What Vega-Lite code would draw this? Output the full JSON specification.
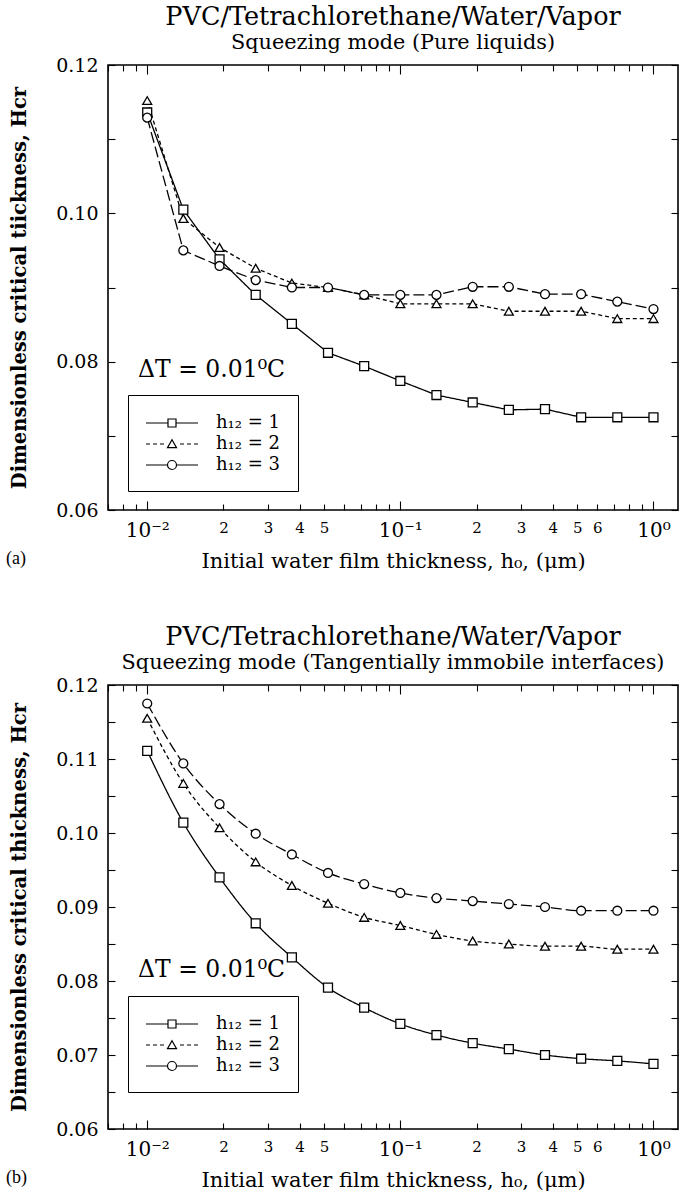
{
  "$schema": "https://vega.github.io/schema/vega-lite/v6.json",
  "padding": {"left": 5, "top": 3, "right": 2, "bottom": 2},
  "background": "white",
  "spacing": 51,
  "config": {
    "font": "DejaVu Serif",
    "view": {"stroke": "black", "strokeWidth": 1.6},
    "axis": {
      "grid": false, "domain": false, "tickColor": "black", "tickWidth": 1.1,
      "labelColor": "black", "titleColor": "black",
      "labelFont": "DejaVu Serif", "titleFont": "DejaVu Serif",
      "titleFontWeight": "normal", "labelFontSize": 19, "titleFontSize": 21,
      "labelOverlap": false, "labelFlush": false, "labelBound": false
    },
    "title": {
      "font": "DejaVu Serif", "fontWeight": "normal", "fontSize": 25.5,
      "subtitleFont": "DejaVu Serif", "subtitleFontSize": 20.8,
      "color": "black", "subtitleColor": "black", "anchor": "middle",
      "offset": 3, "subtitlePadding": 0
    },
    "legend": {
      "orient": "none", "title": null, "padding": 17,
      "strokeColor": "black", "strokeWidth": 1, "fillColor": "white", "cornerRadius": 0,
      "labelFont": "DejaVu Serif", "labelFontSize": 18, "labelColor": "black",
      "labelOffset": 49, "rowPadding": 1, "labelLimit": 300,
      "symbolSize": 400, "symbolStrokeWidth": 1.2, "symbolStrokeColor": "black",
      "symbolFillColor": "transparent", "symbolOpacity": 1
    }
  },
  "datasets": {
    "pure": [
      {"series": "h₁₂ = 1", "x": 0.01, "y": 0.1136},
      {"series": "h₁₂ = 1", "x": 0.01389, "y": 0.1005},
      {"series": "h₁₂ = 1", "x": 0.01931, "y": 0.0938},
      {"series": "h₁₂ = 1", "x": 0.02683, "y": 0.0890},
      {"series": "h₁₂ = 1", "x": 0.03728, "y": 0.0851},
      {"series": "h₁₂ = 1", "x": 0.05179, "y": 0.0812},
      {"series": "h₁₂ = 1", "x": 0.07197, "y": 0.0794},
      {"series": "h₁₂ = 1", "x": 0.1, "y": 0.0774},
      {"series": "h₁₂ = 1", "x": 0.1389, "y": 0.0755},
      {"series": "h₁₂ = 1", "x": 0.1931, "y": 0.0745},
      {"series": "h₁₂ = 1", "x": 0.2683, "y": 0.0735},
      {"series": "h₁₂ = 1", "x": 0.3728, "y": 0.0736},
      {"series": "h₁₂ = 1", "x": 0.5179, "y": 0.0725},
      {"series": "h₁₂ = 1", "x": 0.7197, "y": 0.0725},
      {"series": "h₁₂ = 1", "x": 1.0, "y": 0.0725},
      {"series": "h₁₂ = 2", "x": 0.01, "y": 0.1152},
      {"series": "h₁₂ = 2", "x": 0.01389, "y": 0.0993},
      {"series": "h₁₂ = 2", "x": 0.01931, "y": 0.0954},
      {"series": "h₁₂ = 2", "x": 0.02683, "y": 0.0926},
      {"series": "h₁₂ = 2", "x": 0.03728, "y": 0.0906},
      {"series": "h₁₂ = 2", "x": 0.05179, "y": 0.0900},
      {"series": "h₁₂ = 2", "x": 0.07197, "y": 0.0890},
      {"series": "h₁₂ = 2", "x": 0.1, "y": 0.0878},
      {"series": "h₁₂ = 2", "x": 0.1389, "y": 0.0878},
      {"series": "h₁₂ = 2", "x": 0.1931, "y": 0.0878},
      {"series": "h₁₂ = 2", "x": 0.2683, "y": 0.0868},
      {"series": "h₁₂ = 2", "x": 0.3728, "y": 0.0868},
      {"series": "h₁₂ = 2", "x": 0.5179, "y": 0.0868},
      {"series": "h₁₂ = 2", "x": 0.7197, "y": 0.0858},
      {"series": "h₁₂ = 2", "x": 1.0, "y": 0.0858},
      {"series": "h₁₂ = 3", "x": 0.01, "y": 0.1129},
      {"series": "h₁₂ = 3", "x": 0.01389, "y": 0.0950},
      {"series": "h₁₂ = 3", "x": 0.01931, "y": 0.0929},
      {"series": "h₁₂ = 3", "x": 0.02683, "y": 0.0910},
      {"series": "h₁₂ = 3", "x": 0.03728, "y": 0.0900},
      {"series": "h₁₂ = 3", "x": 0.05179, "y": 0.0900},
      {"series": "h₁₂ = 3", "x": 0.07197, "y": 0.0890},
      {"series": "h₁₂ = 3", "x": 0.1, "y": 0.0890},
      {"series": "h₁₂ = 3", "x": 0.1389, "y": 0.0890},
      {"series": "h₁₂ = 3", "x": 0.1931, "y": 0.0901},
      {"series": "h₁₂ = 3", "x": 0.2683, "y": 0.0901},
      {"series": "h₁₂ = 3", "x": 0.3728, "y": 0.0891},
      {"series": "h₁₂ = 3", "x": 0.5179, "y": 0.0891},
      {"series": "h₁₂ = 3", "x": 0.7197, "y": 0.0881},
      {"series": "h₁₂ = 3", "x": 1.0, "y": 0.0871}
    ],
    "immobile": [
      {"series": "h₁₂ = 1", "x": 0.01, "y": 0.1111},
      {"series": "h₁₂ = 1", "x": 0.01389, "y": 0.1014},
      {"series": "h₁₂ = 1", "x": 0.01931, "y": 0.0940},
      {"series": "h₁₂ = 1", "x": 0.02683, "y": 0.0878},
      {"series": "h₁₂ = 1", "x": 0.03728, "y": 0.0832},
      {"series": "h₁₂ = 1", "x": 0.05179, "y": 0.0791},
      {"series": "h₁₂ = 1", "x": 0.07197, "y": 0.0764},
      {"series": "h₁₂ = 1", "x": 0.1, "y": 0.0742},
      {"series": "h₁₂ = 1", "x": 0.1389, "y": 0.0727},
      {"series": "h₁₂ = 1", "x": 0.1931, "y": 0.0716},
      {"series": "h₁₂ = 1", "x": 0.2683, "y": 0.0708},
      {"series": "h₁₂ = 1", "x": 0.3728, "y": 0.0700},
      {"series": "h₁₂ = 1", "x": 0.5179, "y": 0.0695},
      {"series": "h₁₂ = 1", "x": 0.7197, "y": 0.0692},
      {"series": "h₁₂ = 1", "x": 1.0, "y": 0.0688},
      {"series": "h₁₂ = 2", "x": 0.01, "y": 0.1155},
      {"series": "h₁₂ = 2", "x": 0.01389, "y": 0.1067},
      {"series": "h₁₂ = 2", "x": 0.01931, "y": 0.1007},
      {"series": "h₁₂ = 2", "x": 0.02683, "y": 0.0961},
      {"series": "h₁₂ = 2", "x": 0.03728, "y": 0.0929},
      {"series": "h₁₂ = 2", "x": 0.05179, "y": 0.0905},
      {"series": "h₁₂ = 2", "x": 0.07197, "y": 0.0886},
      {"series": "h₁₂ = 2", "x": 0.1, "y": 0.0875},
      {"series": "h₁₂ = 2", "x": 0.1389, "y": 0.0863},
      {"series": "h₁₂ = 2", "x": 0.1931, "y": 0.0854},
      {"series": "h₁₂ = 2", "x": 0.2683, "y": 0.0850},
      {"series": "h₁₂ = 2", "x": 0.3728, "y": 0.0847},
      {"series": "h₁₂ = 2", "x": 0.5179, "y": 0.0847},
      {"series": "h₁₂ = 2", "x": 0.7197, "y": 0.0843},
      {"series": "h₁₂ = 2", "x": 1.0, "y": 0.0843},
      {"series": "h₁₂ = 3", "x": 0.01, "y": 0.1175},
      {"series": "h₁₂ = 3", "x": 0.01389, "y": 0.1094},
      {"series": "h₁₂ = 3", "x": 0.01931, "y": 0.1039},
      {"series": "h₁₂ = 3", "x": 0.02683, "y": 0.0999},
      {"series": "h₁₂ = 3", "x": 0.03728, "y": 0.0971},
      {"series": "h₁₂ = 3", "x": 0.05179, "y": 0.0946},
      {"series": "h₁₂ = 3", "x": 0.07197, "y": 0.0931},
      {"series": "h₁₂ = 3", "x": 0.1, "y": 0.0919},
      {"series": "h₁₂ = 3", "x": 0.1389, "y": 0.0912},
      {"series": "h₁₂ = 3", "x": 0.1931, "y": 0.0908},
      {"series": "h₁₂ = 3", "x": 0.2683, "y": 0.0904},
      {"series": "h₁₂ = 3", "x": 0.3728, "y": 0.0900},
      {"series": "h₁₂ = 3", "x": 0.5179, "y": 0.0895},
      {"series": "h₁₂ = 3", "x": 0.7197, "y": 0.0895},
      {"series": "h₁₂ = 3", "x": 1.0, "y": 0.0895}
    ]
  },
  "vconcat": [
    {
      "width": 570,
      "height": 445,
      "title": {"text": "PVC/Tetrachlorethane/Water/Vapor", "subtitle": "Squeezing mode (Pure liquids)"},
      "data": {"name": "pure"},
      "layer": [
        {
          "transform": [{"filter": "false"}],
          "mark": {"type": "point", "filled": false, "color": "black", "strokeWidth": 1.2, "size": 400, "opacity": 1},
          "encoding": {
            "shape": {
              "field": "series", "type": "nominal",
              "scale": {
                "domain": ["h₁₂ = 1", "h₁₂ = 2", "h₁₂ = 3"],
                "range": [
                  "M-1,0H1.2M2,0H4.2M1.2,-0.4H2V0.4H1.2Z",
                  "M-1,0H-0.6M-0.3,0H0.1M0.4,0H0.8M2.4,0H2.8M3.1,0H3.5M3.8,0H4.2M1.6,-0.42L2.05,0.36H1.15Z",
                  "M-1,0H1.15M2.05,0H4.2M2.05,0A0.45,0.45 0 1 1 1.15,0A0.45,0.45 0 1 1 2.05,0Z"
                ]
              },
              "legend": {"legendX": 20, "legendY": 330}
            }
          }
        },
        {
          "mark": {"type": "line", "color": "black", "strokeWidth": 1.3},
          "encoding": {
            "x": {
              "field": "x", "type": "quantitative",
              "scale": {"type": "log", "domain": [0.007, 1.25], "nice": false},
              "axis": {
                "orient": "bottom",
                "values": [0.007, 0.008, 0.009, 0.01, 0.02, 0.03, 0.04, 0.05, 0.06, 0.07, 0.08, 0.09, 0.1, 0.2, 0.3, 0.4, 0.5, 0.6, 0.7, 0.8, 0.9, 1],
                "labelExpr": "datum.value == 0.01 ? '10⁻²' : datum.value == 0.1 ? '10⁻¹' : datum.value == 1 ? '10⁰' : (datum.value > 0.015 && datum.value < 0.055) ? format(datum.value * 100, '.0f') : (datum.value > 0.15 && datum.value < 0.65) ? format(datum.value * 10, '.0f') : ''",
                "tickSize": {"condition": {"test": "datum.value == 0.01 || datum.value == 0.1 || datum.value == 1", "value": -9}, "value": -6},
                "labelPadding": {"condition": {"test": "datum.value == 0.01 || datum.value == 0.1 || datum.value == 1", "value": 19}, "value": 16},
                "labelFontSize": {"condition": {"test": "datum.value == 0.01 || datum.value == 0.1 || datum.value == 1", "value": 20}, "value": 15},
                "title": "Initial water film thickness, h₀, (μm)",
                "titlePadding": 10
              }
            },
            "y": {
              "field": "y", "type": "quantitative",
              "scale": {"domain": [0.06, 0.12], "nice": false, "zero": false},
              "axis": {
                "orient": "left",
                "values": [0.06, 0.07, 0.08, 0.09, 0.1, 0.11, 0.12],
                "labelExpr": "round(datum.value * 100) % 2 == 0 ? format(datum.value, '.2f') : ''",
                "tickSize": -7,
                "labelPadding": 17,
                "title": "Dimensionless critical tiickness, Hcr",
                "titleFontWeight": "bold",
                "titleFontSize": 19.5,
                "titlePadding": 26
              }
            },
            "strokeDash": {
              "field": "series", "type": "nominal",
              "scale": {"domain": ["h₁₂ = 1", "h₁₂ = 2", "h₁₂ = 3"], "range": [[1, 0], [4, 3], [11, 4]]},
              "legend": null
            }
          }
        },
        {
          "mark": {"type": "point", "filled": true, "fill": "white", "stroke": "black", "strokeWidth": 1.3, "size": 80, "opacity": 1},
          "encoding": {
            "x": {
              "field": "x", "type": "quantitative",
              "scale": {"type": "log", "domain": [0.007, 1.25], "nice": false},
              "axis": {
                "orient": "top", "labels": false, "title": null,
                "values": [0.007, 0.008, 0.009, 0.01, 0.02, 0.03, 0.04, 0.05, 0.06, 0.07, 0.08, 0.09, 0.1, 0.2, 0.3, 0.4, 0.5, 0.6, 0.7, 0.8, 0.9, 1],
                "tickSize": {"condition": {"test": "datum.value == 0.01 || datum.value == 0.1 || datum.value == 1", "value": -9}, "value": -6}
              }
            },
            "y": {
              "field": "y", "type": "quantitative",
              "scale": {"domain": [0.06, 0.12], "nice": false, "zero": false},
              "axis": {
                "orient": "right", "labels": false, "title": null,
                "values": [0.06, 0.07, 0.08, 0.09, 0.1, 0.11, 0.12],
                "tickSize": -7
              }
            },
            "shape": {
              "field": "series", "type": "nominal",
              "scale": {"domain": ["h₁₂ = 1", "h₁₂ = 2", "h₁₂ = 3"], "range": ["square", "triangle-up", "circle"]},
              "legend": null
            }
          }
        },
        {
          "data": {"values": [{}]},
          "mark": {"type": "text", "align": "left", "baseline": "alphabetic", "fontSize": 23.5, "font": "DejaVu Serif", "color": "black"},
          "encoding": {
            "x": {"datum": 0.0092, "type": "quantitative", "axis": null},
            "y": {"datum": 0.078, "type": "quantitative", "axis": null},
            "text": {"value": "ΔT = 0.01⁰C"}
          }
        },
        {
          "data": {"values": [{}]},
          "mark": {"type": "text", "align": "left", "baseline": "alphabetic", "fontSize": 18, "font": "Liberation Serif", "color": "black"},
          "encoding": {
            "x": {"datum": 0.002767, "type": "quantitative", "axis": null},
            "y": {"datum": 0.0527, "type": "quantitative", "axis": null},
            "text": {"value": "(a)"}
          }
        }
      ],
      "resolve": {
        "scale": {"shape": "independent"},
        "legend": {"shape": "independent"},
        "axis": {"x": "independent", "y": "independent"}
      }
    },
    {
      "width": 570,
      "height": 444,
      "title": {"text": "PVC/Tetrachlorethane/Water/Vapor", "subtitle": "Squeezing mode (Tangentially immobile interfaces)"},
      "data": {"name": "immobile"},
      "layer": [
        {
          "transform": [{"filter": "false"}],
          "mark": {"type": "point", "filled": false, "color": "black", "strokeWidth": 1.2, "size": 400, "opacity": 1},
          "encoding": {
            "shape": {
              "field": "series", "type": "nominal",
              "scale": {
                "domain": ["h₁₂ = 1", "h₁₂ = 2", "h₁₂ = 3"],
                "range": [
                  "M-1,0H1.2M2,0H4.2M1.2,-0.4H2V0.4H1.2Z",
                  "M-1,0H-0.6M-0.3,0H0.1M0.4,0H0.8M2.4,0H2.8M3.1,0H3.5M3.8,0H4.2M1.6,-0.42L2.05,0.36H1.15Z",
                  "M-1,0H1.15M2.05,0H4.2M2.05,0A0.45,0.45 0 1 1 1.15,0A0.45,0.45 0 1 1 2.05,0Z"
                ]
              },
              "legend": {"legendX": 20, "legendY": 311}
            }
          }
        },
        {
          "mark": {"type": "line", "color": "black", "strokeWidth": 1.3, "interpolate": "monotone"},
          "encoding": {
            "x": {
              "field": "x", "type": "quantitative",
              "scale": {"type": "log", "domain": [0.007, 1.25], "nice": false},
              "axis": {
                "orient": "bottom",
                "values": [0.007, 0.008, 0.009, 0.01, 0.02, 0.03, 0.04, 0.05, 0.06, 0.07, 0.08, 0.09, 0.1, 0.2, 0.3, 0.4, 0.5, 0.6, 0.7, 0.8, 0.9, 1],
                "labelExpr": "datum.value == 0.01 ? '10⁻²' : datum.value == 0.1 ? '10⁻¹' : datum.value == 1 ? '10⁰' : (datum.value > 0.015 && datum.value < 0.055) ? format(datum.value * 100, '.0f') : (datum.value > 0.15 && datum.value < 0.65) ? format(datum.value * 10, '.0f') : ''",
                "tickSize": {"condition": {"test": "datum.value == 0.01 || datum.value == 0.1 || datum.value == 1", "value": -9}, "value": -6},
                "labelPadding": {"condition": {"test": "datum.value == 0.01 || datum.value == 0.1 || datum.value == 1", "value": 19}, "value": 16},
                "labelFontSize": {"condition": {"test": "datum.value == 0.01 || datum.value == 0.1 || datum.value == 1", "value": 20}, "value": 15},
                "title": "Initial water film thickness, h₀, (μm)",
                "titlePadding": 10
              }
            },
            "y": {
              "field": "y", "type": "quantitative",
              "scale": {"domain": [0.06, 0.12], "nice": false, "zero": false},
              "axis": {
                "orient": "left",
                "values": [0.06, 0.065, 0.07, 0.075, 0.08, 0.085, 0.09, 0.095, 0.1, 0.105, 0.11, 0.115, 0.12],
                "labelExpr": "round(datum.value * 1000) % 10 == 0 ? format(datum.value, '.2f') : ''",
                "tickSize": -7,
                "labelPadding": 17,
                "title": "Dimensionless critical thickness, Hcr",
                "titleFontWeight": "bold",
                "titleFontSize": 19.5,
                "titlePadding": 26
              }
            },
            "strokeDash": {
              "field": "series", "type": "nominal",
              "scale": {"domain": ["h₁₂ = 1", "h₁₂ = 2", "h₁₂ = 3"], "range": [[1, 0], [4, 3], [11, 4]]},
              "legend": null
            }
          }
        },
        {
          "mark": {"type": "point", "filled": true, "fill": "white", "stroke": "black", "strokeWidth": 1.3, "size": 80, "opacity": 1},
          "encoding": {
            "x": {
              "field": "x", "type": "quantitative",
              "scale": {"type": "log", "domain": [0.007, 1.25], "nice": false},
              "axis": {
                "orient": "top", "labels": false, "title": null,
                "values": [0.007, 0.008, 0.009, 0.01, 0.02, 0.03, 0.04, 0.05, 0.06, 0.07, 0.08, 0.09, 0.1, 0.2, 0.3, 0.4, 0.5, 0.6, 0.7, 0.8, 0.9, 1],
                "tickSize": {"condition": {"test": "datum.value == 0.01 || datum.value == 0.1 || datum.value == 1", "value": -9}, "value": -6}
              }
            },
            "y": {
              "field": "y", "type": "quantitative",
              "scale": {"domain": [0.06, 0.12], "nice": false, "zero": false},
              "axis": {
                "orient": "right", "labels": false, "title": null,
                "values": [0.06, 0.065, 0.07, 0.075, 0.08, 0.085, 0.09, 0.095, 0.1, 0.105, 0.11, 0.115, 0.12],
                "tickSize": -7
              }
            },
            "shape": {
              "field": "series", "type": "nominal",
              "scale": {"domain": ["h₁₂ = 1", "h₁₂ = 2", "h₁₂ = 3"], "range": ["square", "triangle-up", "circle"]},
              "legend": null
            }
          }
        },
        {
          "data": {"values": [{}]},
          "mark": {"type": "text", "align": "left", "baseline": "alphabetic", "fontSize": 23.5, "font": "DejaVu Serif", "color": "black"},
          "encoding": {
            "x": {"datum": 0.0092, "type": "quantitative", "axis": null},
            "y": {"datum": 0.0805, "type": "quantitative", "axis": null},
            "text": {"value": "ΔT = 0.01⁰C"}
          }
        },
        {
          "data": {"values": [{}]},
          "mark": {"type": "text", "align": "left", "baseline": "alphabetic", "fontSize": 18, "font": "Liberation Serif", "color": "black"},
          "encoding": {
            "x": {"datum": 0.002767, "type": "quantitative", "axis": null},
            "y": {"datum": 0.0527, "type": "quantitative", "axis": null},
            "text": {"value": "(b)"}
          }
        }
      ],
      "resolve": {
        "scale": {"shape": "independent"},
        "legend": {"shape": "independent"},
        "axis": {"x": "independent", "y": "independent"}
      }
    }
  ]
}
